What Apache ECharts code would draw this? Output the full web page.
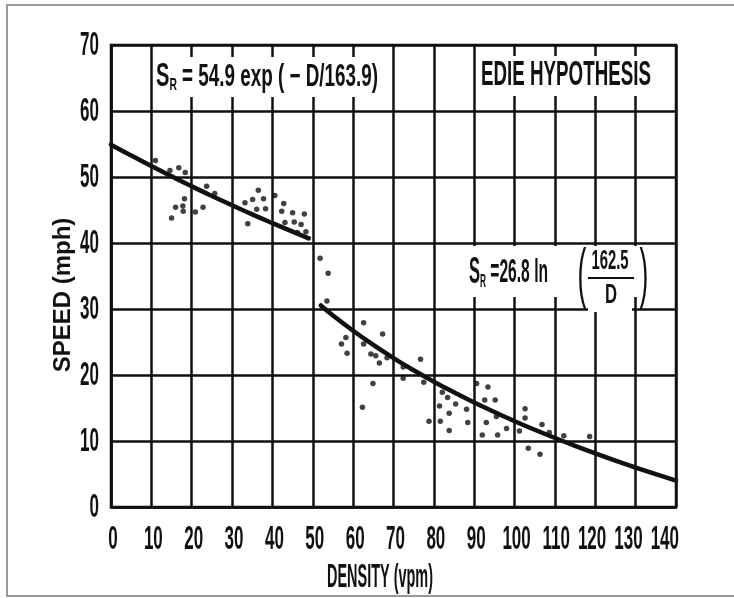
<!DOCTYPE html>
<html>
<head>
<meta charset="utf-8">
<script src="https://cdn.jsdelivr.net/npm/echarts@6/dist/echarts.min.js"></script>
<style>
  html, body { margin: 0; padding: 0; background: #fff; }
  #chart { width: 734px; height: 598px; }
</style>
</head>
<body>
<div id="chart"></div>
<script>
// Observed speed–density pairs (vpm, mph)
const obsDensity = [
  11.0, 14.6, 16.8, 18.4, 18.2, 23.7, 25.7, 16.0, 17.8, 17.9, 20.9, 22.8, 15.0,
  33.2, 35.1, 36.5, 37.8, 36.1, 38.3, 33.9, 40.6, 42.8, 42.3, 45.0, 47.9, 43.1,
  45.4, 47.1, 48.3, 46.2,
  51.8, 53.8, 53.5, 62.6, 67.3, 58.2, 57.1, 58.5, 62.6, 64.4, 65.6, 66.5, 68.4,
  64.9, 62.3,
  72.4, 72.4, 76.7, 77.5, 82.1, 83.4, 81.4, 85.4, 88.1, 83.8, 78.8, 81.6, 83.8,
  88.4, 90.6, 93.4, 92.6, 95.2, 93.0, 95.5, 92.0, 95.8, 98.0, 101.2, 102.6,
  102.6, 106.8, 108.6, 103.4, 106.3, 112.2, 118.6
];
const obsSpeed = [
  52.5, 51.0, 51.4, 50.7, 46.7, 48.6, 47.5, 45.4, 45.6, 44.8, 44.7, 45.4, 43.8,
  46.1, 46.6, 48.0, 46.7, 45.1, 45.2, 42.9, 47.2, 46.0, 44.8, 44.6, 44.4, 43.1,
  43.2, 42.8, 41.7, 41.6,
  37.7, 35.4, 31.2, 27.9, 26.2, 25.7, 24.7, 23.3, 24.7, 23.2, 22.9, 21.8, 22.6,
  18.7, 15.1,
  21.2, 19.5, 22.4, 18.9, 17.4, 16.6, 15.3, 15.6, 14.8, 14.2, 13.0, 13.0, 11.6,
  12.8, 18.7, 18.2, 16.2, 16.2, 12.8, 13.7, 10.9, 10.9, 11.9, 11.5, 14.9,
  13.5, 12.5, 11.3, 8.9, 8.0, 10.8, 10.7
];

// Fitted curve, low-density regime: S = 54.9 exp(-D/163.9)
const expDensity = [0, 5, 10, 15, 20, 25, 30, 35, 40, 45, 49];
const expSpeed   = [54.90, 53.25, 51.65, 50.10, 48.59, 47.13, 45.72, 44.34, 43.01, 41.72, 40.71];

// Fitted curve, high-density regime: S = 26.8 ln(162.5/D)
const lnDensity = [52, 55, 60, 65, 70, 75, 80, 85, 90, 95, 100, 105, 110, 115, 120, 125, 130, 135, 140];
const lnSpeed   = [30.54, 29.03, 26.70, 24.56, 22.57, 20.72, 18.99, 17.37, 15.83, 14.39, 13.01,
                   11.70, 10.46, 9.27, 8.13, 7.03, 5.98, 4.97, 3.99];

// Axis ticks
const xTickValues = [0, 10, 20, 30, 40, 50, 60, 70, 80, 90, 100, 110, 120, 130, 140];
const xTickLabels = ['0', '10', '20', '30', '40', '50', '60', '70', '80', '90', '100', '110', '120', '130', '140'];
const yTickValues = [0, 10, 20, 30, 40, 50, 60, 70];
const yTickLabels = ['0', '10', '20', '30', '40', '50', '60', '70'];

const pairs = (xs, ys) => xs.map((x, i) => [x, ys[i]]);

const INK = '#111';
const FAMILY = '"Liberation Sans", Arial, Helvetica, sans-serif';

// Narrow lettering: a regular face squeezed horizontally
const measureCtx = document.createElement('canvas').getContext('2d');
function textWidth(str, size, weight) {
  measureCtx.font = `${weight} ${size}px ${FAMILY}`;
  return measureCtx.measureText(str).width;
}
let uid = 0;
function narrowText(str, x, y, size, squeeze, opts = {}) {
  return {
    id: 'txt' + (uid++), type: 'text', x, y, scaleX: squeeze, z: 51, silent: true,
    style: {
      text: str, fontFamily: FAMILY, fontSize: size, fontWeight: opts.weight || 'bold',
      fill: INK, align: opts.align || 'left', verticalAlign: 'middle'
    }
  };
}
// Lay out several pieces left to right, squeezed so the run spans [left, right]
function fittedRun(pieces, left, right, y) {
  const widths = pieces.map(p => textWidth(p.text, p.size, p.weight || 'bold'));
  const total = widths.reduce((a, b) => a + b, 0);
  const k = (right - left) / total;
  let cx = left;
  return pieces.map((p, i) => {
    const el = narrowText(p.text, cx, y + (p.dy || 0), p.size, k, { weight: p.weight });
    cx += widths[i] * k;
    return el;
  });
}

const chart = echarts.init(document.getElementById('chart'), null, { renderer: 'canvas' });

chart.setOption({
  backgroundColor: '#fff',
  animation: false,
  grid: {
    left: 111, top: 45, right: 58, bottom: 91,
    show: true, borderColor: INK, borderWidth: 2.5, backgroundColor: 'transparent'
  },
  xAxis: {
    type: 'value', min: xTickValues[0], max: xTickValues[xTickValues.length - 1], interval: 10,
    axisLine: { show: true, onZero: false, lineStyle: { color: INK, width: 2.5 } },
    axisTick: { show: false },
    splitLine: { show: true, lineStyle: { color: INK, width: 2.5 } },
    axisLabel: { show: false }
  },
  yAxis: {
    type: 'value', min: yTickValues[0], max: yTickValues[yTickValues.length - 1], interval: 10,
    name: 'SPEED (mph)', nameLocation: 'middle', nameGap: 36, nameRotate: 90,
    nameMoveOverlap: false,
    nameTextStyle: { fontFamily: FAMILY, fontWeight: 'bold', fontSize: 24, color: INK,
                     padding: [0, 38, 0, 0] },
    axisLine: { show: true, onZero: false, lineStyle: { color: INK, width: 2.5 } },
    axisTick: { show: false },
    splitLine: { show: true, lineStyle: { color: INK, width: 2.5 } },
    axisLabel: { show: false }
  },
  series: [
    {
      type: 'scatter', data: pairs(obsDensity, obsSpeed),
      symbol: 'circle', symbolSize: 5.5, itemStyle: { color: INK }, z: 4
    },
    {
      type: 'line', data: pairs(expDensity, expSpeed), smooth: true,
      showSymbol: false, lineStyle: { color: INK, width: 4.5, cap: 'round' }, z: 5
    },
    {
      type: 'line', data: pairs(lnDensity, lnSpeed), smooth: true,
      showSymbol: false, lineStyle: { color: INK, width: 4.5, cap: 'round' }, z: 5
    }
  ],
  graphic: [
    // page frame
    { id: 'frame', type: 'rect', shape: { x: 7, y: 5, width: 740, height: 591 }, silent: true,
      style: { fill: 'none', stroke: '#9a9a9a', lineWidth: 2 }, z: 1 },

    // low-density equation
    { id: 'box1', type: 'rect', shape: { x: 154, y: 57, width: 227, height: 40 },
      style: { fill: '#fff' }, z: 50 },
    ...fittedRun([
      { text: 'S', size: 33 },
      { text: 'R', size: 17, dy: 8 },
      { text: ' = 54.9 exp ( − D/163.9)', size: 31 }
    ], 156, 378, 77),

    // hypothesis title
    { id: 'box2', type: 'rect', shape: { x: 477, y: 56, width: 185, height: 40 },
      style: { fill: '#fff' }, z: 50 },
    ...fittedRun([{ text: 'EDIE HYPOTHESIS', size: 35 }], 481, 651, 75),

    // high-density equation
    { id: 'box3', type: 'rect', shape: { x: 458, y: 246, width: 204, height: 51 },
      style: { fill: '#fff' }, z: 50 },
    { id: 'box4', type: 'rect', shape: { x: 588, y: 296, width: 44, height: 16 },
      style: { fill: '#fff' }, z: 50 },
    ...fittedRun([
      { text: 'S', size: 36 },
      { text: 'R', size: 18, dy: 9 },
      { text: ' =26.8 ln', size: 34 }
    ], 469, 548, 273),
    narrowText('(', 582, 277, 66, 0.4, { weight: 'normal', align: 'center' }),
    narrowText(')', 644, 277, 66, 0.4, { weight: 'normal', align: 'center' }),
    narrowText('162.5', 610, 262, 27, 0.55, { align: 'center' }),
    { id: 'fracBar', type: 'line', shape: { x1: 588, y1: 278, x2: 634, y2: 278 }, z: 51,
      style: { stroke: INK, lineWidth: 2.2 } },
    narrowText('D', 611, 296, 27, 0.62, { align: 'center' }),

    // horizontal axis title
    ...fittedRun([{ text: 'DENSITY (vpm)', size: 33 }], 327, 433, 578)
  ]
});

// Tick labels placed through the axes' own scales
const TICK_SIZE = 34, TICK_SQUEEZE = 0.5, TICK_GAP = 8;
const plotRight = chart.convertToPixel({ xAxisIndex: 0 }, xTickValues[xTickValues.length - 1]);
const baseY = chart.convertToPixel({ yAxisIndex: 0 }, 0);
const baseX = chart.convertToPixel({ xAxisIndex: 0 }, 0);

// centred under each tick, the run nudged left so it ends at the frame
const halfW = xTickLabels.map(t => textWidth(t, TICK_SIZE, 'bold') * TICK_SQUEEZE / 2);
const xCentres = xTickValues.map(v => chart.convertToPixel({ xAxisIndex: 0 }, v) + 2);
for (let i = xCentres.length - 1; i >= 0; i--) {
  const limit = i === xCentres.length - 1
    ? plotRight + 3 - halfW[i]
    : xCentres[i + 1] - halfW[i + 1] - TICK_GAP - halfW[i];
  xCentres[i] = Math.min(xCentres[i], limit);
}
const tickEls = [];
xTickLabels.forEach((t, i) => {
  tickEls.push(narrowText(t, xCentres[i], baseY + 33, TICK_SIZE, TICK_SQUEEZE, { align: 'center' }));
});
yTickValues.forEach((v, i) => {
  tickEls.push(narrowText(yTickLabels[i], baseX - 12,
    chart.convertToPixel({ yAxisIndex: 0 }, v) + 1, TICK_SIZE, TICK_SQUEEZE, { align: 'right' }));
});

chart.setOption({ graphic: tickEls });
</script>
</body>
</html>
